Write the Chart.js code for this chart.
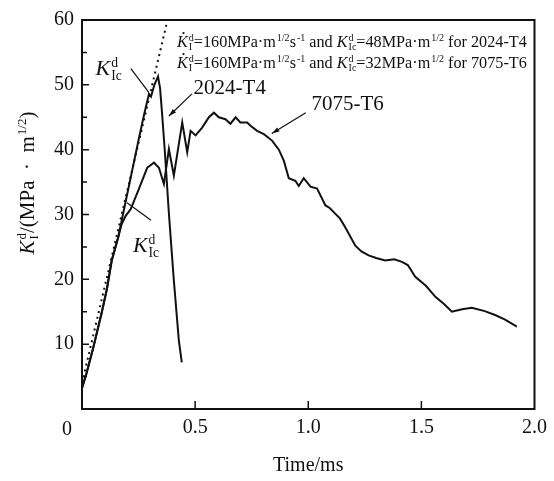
<!DOCTYPE html>
<html>
<head>
<meta charset="utf-8">
<script src="https://cdn.jsdelivr.net/npm/chart.js@4.4.1/dist/chart.umd.min.js"></script>
<style>
  body { margin: 0; background: #fff; }
  #wrap { width: 554px; height: 481px; }
</style>
</head>
<body>
<div id="wrap"><canvas id="kChart" width="554" height="481"></canvas></div>
<script>
// loading rate line (dotted)
const timeRate = [0.0, 0.378];
const kRate = [4.0, 60];

// 2024-T4
const time2024 = [0, 0.02, 0.05, 0.088, 0.11, 0.132, 0.16, 0.19, 0.22, 0.25, 0.275, 0.296, 0.305, 0.32, 0.336,
  0.345, 0.353, 0.366, 0.384, 0.406, 0.428, 0.441];
const k2024 = [3.2, 5.5, 9.5, 15, 18.5, 23, 26.5, 31.5, 36.5, 41.5, 45.5, 48.6, 48.2, 50, 51.3,
  49.5, 46, 39.8, 30.2, 19.8, 10.6, 7.2];

// 7075-T6
const time7075 = [0, 0.02, 0.05, 0.088, 0.11, 0.132, 0.16, 0.175, 0.193, 0.215, 0.252, 0.288, 0.318, 0.34, 0.362,
  0.384, 0.406, 0.443, 0.465, 0.48, 0.502, 0.531, 0.561, 0.583, 0.605, 0.634, 0.656, 0.679, 0.70, 0.73,
  0.745, 0.774, 0.804, 0.84, 0.87, 0.892, 0.914, 0.943, 0.958, 0.98, 1.01, 1.039, 1.076, 1.095, 1.12, 1.14, 1.164,
  1.208, 1.235, 1.267, 1.30, 1.34, 1.38, 1.414, 1.44, 1.473, 1.52, 1.562, 1.60, 1.635, 1.68, 1.723, 1.78, 1.826, 1.87, 1.922];
const k7075 = [3.2, 5.5, 9.5, 15, 18.5, 23, 26.5, 28.5, 29.8, 30.8, 34, 37.2, 38, 37.2, 34.7,
  40.1, 36, 44.2, 39.6, 42.9, 42.2, 43.4, 45, 45.7, 45, 44.7, 44, 45, 44.2, 44.2,
  43.7, 42.9, 42.4, 41.4, 40, 38.3, 35.6, 35.2, 34.4, 35.6, 34.3, 34, 31.4, 31.0, 30.1, 29.4, 28,
  25.2, 24.3, 23.7, 23.3, 22.9, 23.1, 22.7, 22.2, 20.4, 19.0, 17.3, 16.2, 15.0, 15.4, 15.6, 15.1, 14.5, 13.8, 12.7];

// axis ticks
const xTicks = [0, 0.5, 1.0, 1.5, 2.0];
const yTicks = [10, 20, 30, 40, 50, 60];

// annotations (data coordinates)
const arrows = [
  { from: [0.486, 48.6], to: [0.384, 45.2], head: true },
  { from: [0.989, 45.7], to: [0.839, 42.5], head: true },
  { from: [0.216, 52.5], to: [0.296, 48.8], head: false },
  { from: [0.305, 29.1], to: [0.199, 31.8], head: false }
];
const seriesLabels = [
  { text: '2024-T4', at: [0.653, 49.5] },
  { text: '7075-T6', at: [1.174, 46.9] }
];

const FAM = '"Liberation Serif", "DejaVu Serif", serif';
const INK = '#111';

function pts(xs, ys) { return xs.map((x, i) => ({ x: x, y: ys[i] })); }
function fnt(it, size) { return (it ? 'italic ' : '') + size + 'px ' + FAM; }

function partWidth(ctx, p, size) {
  if (p.t !== undefined) { ctx.font = fnt(p.it, size); return ctx.measureText(p.t).width; }
  const s = size * 0.62;
  ctx.font = fnt(false, s);
  const a = p.sup ? ctx.measureText(p.sup).width : 0;
  const b = p.sub ? ctx.measureText(p.sub).width : 0;
  return Math.max(a, b) + 1;
}

function drawRich(ctx, x, y, parts, size, align) {
  let total = 0;
  parts.forEach(p => total += partWidth(ctx, p, size));
  let cx = align === 'center' ? x - total / 2 : x;
  ctx.textAlign = 'left';
  ctx.textBaseline = 'alphabetic';
  parts.forEach(p => {
    const w = partWidth(ctx, p, size);
    if (p.t !== undefined) {
      ctx.font = fnt(p.it, size);
      ctx.fillText(p.t, cx, y);
      if (p.dot) {
        ctx.beginPath();
        ctx.arc(cx + w * 0.6, y - size * 0.86, size * 0.07, 0, Math.PI * 2);
        ctx.fill();
      }
    } else {
      const s = size * 0.62;
      ctx.font = fnt(false, s);
      if (p.sup) ctx.fillText(p.sup, cx + 1, y - size * 0.36);
      if (p.sub) ctx.fillText(p.sub, cx + 1, y + size * 0.2);
    }
    cx += w;
  });
}

const decor = {
  id: 'decor',
  afterDatasetsDraw(chart) {
    const ctx = chart.ctx;
    const xs = chart.scales.x, ys = chart.scales.y;
    const a = chart.chartArea;
    ctx.save();
    ctx.strokeStyle = INK;
    ctx.fillStyle = INK;

    // frame
    ctx.lineWidth = 2;
    ctx.strokeRect(a.left, a.top, a.right - a.left, a.bottom - a.top);

    // inward ticks
    ctx.lineWidth = 1.5;
    ctx.beginPath();
    for (let v = 0.5; v < 2; v += 0.5) {
      const px = xs.getPixelForValue(v);
      ctx.moveTo(px, a.bottom); ctx.lineTo(px, a.bottom - 8);
    }
    for (let v = 5; v < 60; v += 5) {
      const py = ys.getPixelForValue(v);
      ctx.moveTo(a.left, py); ctx.lineTo(a.left + (v % 10 === 0 ? 7 : 5), py);
    }
    ctx.stroke();

    // arrows
    ctx.lineWidth = 1.2;
    arrows.forEach(ar => {
      const x1 = xs.getPixelForValue(ar.from[0]), y1 = ys.getPixelForValue(ar.from[1]);
      const x2 = xs.getPixelForValue(ar.to[0]), y2 = ys.getPixelForValue(ar.to[1]);
      ctx.beginPath(); ctx.moveTo(x1, y1); ctx.lineTo(x2, y2); ctx.stroke();
      if (ar.head) {
        const ang = Math.atan2(y2 - y1, x2 - x1);
        ctx.beginPath();
        ctx.moveTo(x2, y2);
        ctx.lineTo(x2 - 8 * Math.cos(ang - 0.3), y2 - 8 * Math.sin(ang - 0.3));
        ctx.lineTo(x2 - 8 * Math.cos(ang + 0.3), y2 - 8 * Math.sin(ang + 0.3));
        ctx.closePath(); ctx.fill();
      }
    });

    // series labels
    ctx.textAlign = 'center';
    ctx.textBaseline = 'middle';
    ctx.font = '21px ' + FAM;
    seriesLabels.forEach(l => {
      ctx.fillText(l.text, xs.getPixelForValue(l.at[0]), ys.getPixelForValue(l.at[1]));
    });

    // K_Ic^d labels
    const kic = [{ t: 'K', it: true }, { sup: 'd', sub: 'Ic' }];
    drawRich(ctx, xs.getPixelForValue(0.06), ys.getPixelForValue(51.5), kic, 22, 'left');
    drawRich(ctx, xs.getPixelForValue(0.225), ys.getPixelForValue(24.2), kic, 22, 'left');

    // rate text
    const tx = xs.getPixelForValue(0.42);
    const line = (kic, f) => [
      { t: 'K', it: true, dot: true }, { sup: 'd', sub: 'I' },
      { t: '=160MPa\u00b7m' }, { sup: '1/2' }, { t: 's' }, { sup: '-1' },
      { t: ' and ' }, { t: 'K', it: true }, { sup: 'd', sub: 'Ic' },
      { t: '=' + kic + 'MPa\u00b7m' }, { sup: '1/2' }, { t: ' for ' + f }
    ];
    drawRich(ctx, tx, 47, line(48, '2024-T4'), 16.2, 'left');
    drawRich(ctx, tx, 68, line(32, '7075-T6'), 16.2, 'left');

    // shared origin label
    ctx.font = '20px ' + FAM;
    ctx.textAlign = 'center';
    ctx.textBaseline = 'middle';
    ctx.fillText('0', a.left - 15, a.bottom + 21);

    // axis titles
    ctx.fillText('Time/ms', (a.left + a.right) / 2, 466);
    ctx.save();
    ctx.translate(27, 183);
    ctx.rotate(-Math.PI / 2);
    drawRich(ctx, 0, 7, [
      { t: 'K', it: true }, { sup: 'd', sub: 'I' },
      { t: '/(MPa  \u00b7  m' }, { sup: '1/2' }, { t: ')' }
    ], 21, 'center');
    ctx.restore();

    ctx.restore();
  }
};

new Chart(document.getElementById('kChart').getContext('2d'), {
  type: 'line',
  data: {
    datasets: [
      {
        label: 'rate',
        data: pts(timeRate, kRate),
        borderColor: INK,
        borderWidth: 2,
        borderDash: [2, 4],
        pointRadius: 0
      },
      {
        label: '2024-T4',
        data: pts(time2024, k2024),
        borderColor: INK,
        borderWidth: 2,
        pointRadius: 0,
        tension: 0
      },
      {
        label: '7075-T6',
        data: pts(time7075, k7075),
        borderColor: INK,
        borderWidth: 2,
        pointRadius: 0,
        tension: 0
      }
    ]
  },
  options: {
    responsive: false,
    devicePixelRatio: 1,
    animation: false,
    layout: { padding: { top: 19, right: 18, left: 0, bottom: 0 } },
    plugins: { legend: { display: false }, tooltip: { enabled: false } },
    scales: {
      x: {
        type: 'linear',
        min: 0, max: 2,
        afterFit: s => { s.height = 72; },
        afterBuildTicks: s => { s.ticks = xTicks.map(v => ({ value: v })); },
        grid: { display: false, drawTicks: false },
        border: { display: false },
        ticks: {
          autoSkip: false, maxRotation: 0, padding: 7, color: INK,
          font: { family: FAM, size: 20 },
          callback: v => v === 0 ? '' : v.toFixed(1)
        }
      },
      y: {
        min: 0, max: 60,
        afterFit: s => { s.width = 82; },
        afterBuildTicks: s => { s.ticks = yTicks.map(v => ({ value: v })); },
        grid: { display: false, drawTicks: false },
        border: { display: false },
        ticks: {
          autoSkip: false, padding: 8, color: INK,
          font: { family: FAM, size: 20 }
        }
      }
    }
  },
  plugins: [decor]
});
</script>
</body>
</html>
